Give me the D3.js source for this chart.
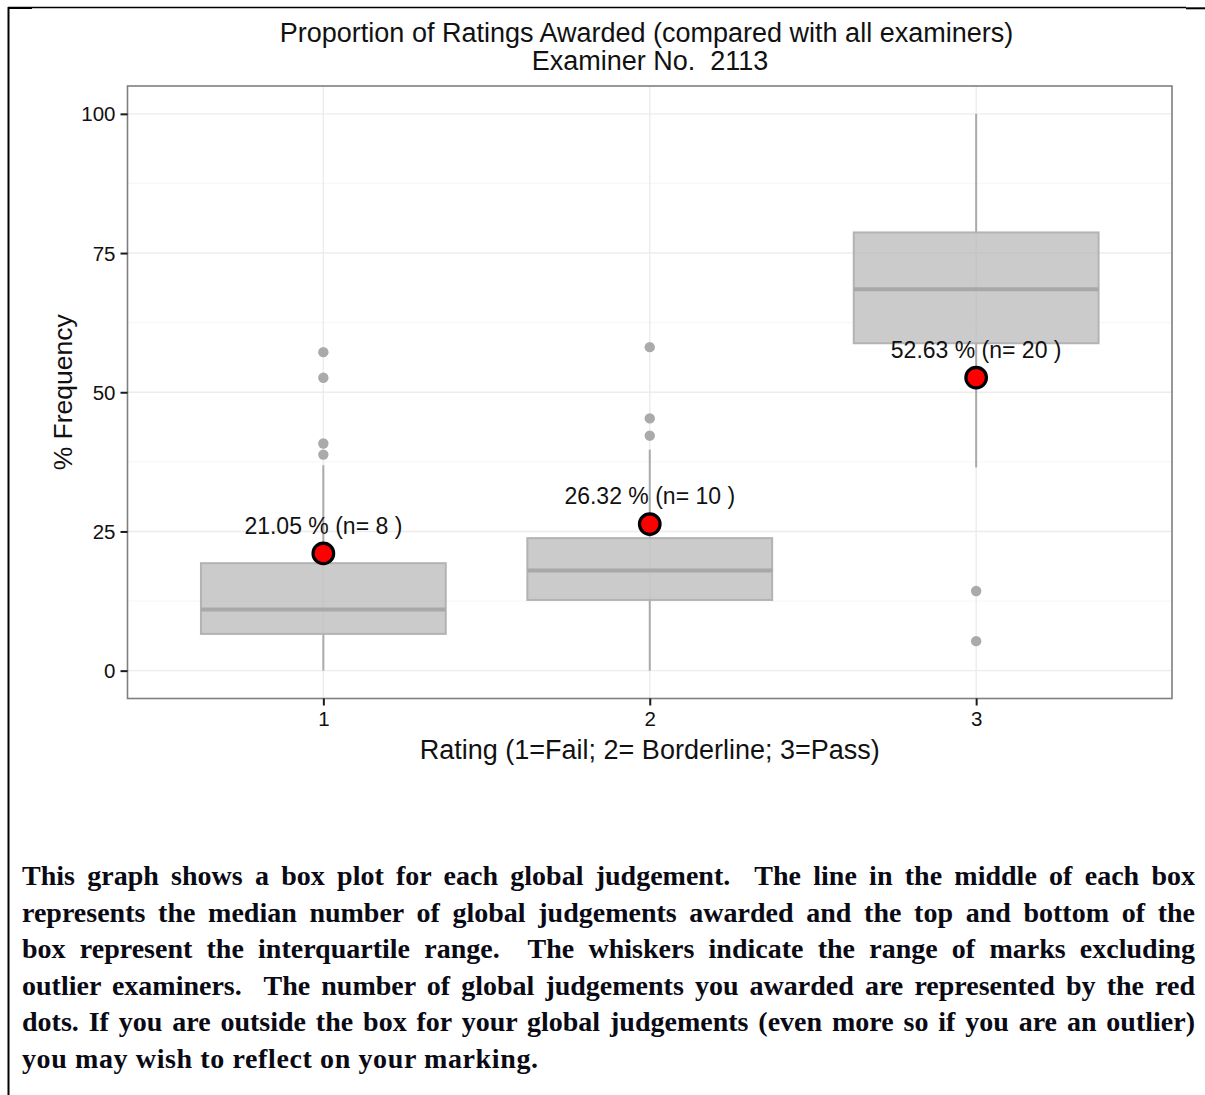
<!DOCTYPE html>
<html>
<head>
<meta charset="utf-8">
<script src="https://cdn.jsdelivr.net/npm/d3@7"></script>
<style>
  html, body { margin: 0; padding: 0; background: #fff; }
  svg { display: block; }
</style>
</head>
<body>
<svg id="chart" width="1205" height="1095"></svg>
<script>
// ---- data ----
const categories = ["1", "2", "3"];
const q1Values = [6.6, 12.7, 58.8];
const medianValues = [11.0, 18.0, 68.5];
const q3Values = [19.3, 23.8, 78.7];
const whiskerLow = [0, 0, 36.5];
const whiskerHigh = [36.9, 39.7, 100];
const outlierValues = [[57.2, 52.6, 40.8, 38.8], [58.1, 45.3, 42.2], [14.3, 5.3]];
const examinerPct = [21.05, 26.32, 52.63];
const examinerN = [8, 10, 20];
const yTicks = [0, 25, 50, 75, 100];
const yMinor = [12.5, 37.5, 62.5, 87.5];
const titleLines = ["Proportion of Ratings Awarded (compared with all examiners)", "Examiner No.  2113"];
const xTitle = "Rating (1=Fail; 2= Borderline; 3=Pass)";
const yTitle = "% Frequency";
const noteLines = [
  "This graph shows a box plot for each global judgement.  The line in the middle of each box",
  "represents the median number of global judgements awarded and the top and bottom of the",
  "box represent the interquartile range.  The whiskers indicate the range of marks excluding",
  "outlier examiners.  The number of global judgements you awarded are represented by the red",
  "dots. If you are outside the box for your global judgements (even more so if you are an outlier)",
  "you may wish to reflect on your marking."
];

const svg = d3.select("#chart");
const sans = "'Liberation Sans', Arial, sans-serif";
const serif = "'Liberation Serif', 'Times New Roman', serif";

const panel = { left: 127.5, right: 1172, top: 86, bottom: 698.5 };

const x = d3.scalePoint().domain(categories).range([panel.left, panel.right]).padding(0.6);
const y = d3.scaleLinear().domain([-5, 105]).range([panel.bottom, panel.top]);
const boxW = x.step() * 0.75;

// page border fragments
svg.append("line").attr("x1", 8).attr("x2", 1186).attr("y1", 7.5).attr("y2", 7.5).attr("stroke", "#000").attr("stroke-width", 1.3);
svg.append("line").attr("x1", 8).attr("x2", 32).attr("y1", 8).attr("y2", 8).attr("stroke", "#000").attr("stroke-width", 2);
svg.append("line").attr("x1", 1186).attr("x2", 1205).attr("y1", 8.3).attr("y2", 8.3).attr("stroke", "#000").attr("stroke-width", 2);
svg.append("line").attr("x1", 8.5).attr("x2", 8.5).attr("y1", 7).attr("y2", 1095).attr("stroke", "#000").attr("stroke-width", 2);

// grid
const g = svg.append("g");
g.selectAll(".minor").data(yMinor).join("line")
  .attr("x1", panel.left).attr("x2", panel.right)
  .attr("y1", d => y(d)).attr("y2", d => y(d))
  .attr("stroke", "#f7f7f7").attr("stroke-width", 1.2);
g.selectAll(".major").data(yTicks).join("line")
  .attr("x1", panel.left).attr("x2", panel.right)
  .attr("y1", d => y(d)).attr("y2", d => y(d))
  .attr("stroke", "#ececec").attr("stroke-width", 1.4);
g.selectAll(".vmajor").data(categories).join("line")
  .attr("x1", d => x(d)).attr("x2", d => x(d))
  .attr("y1", panel.top).attr("y2", panel.bottom)
  .attr("stroke", "#ececec").attr("stroke-width", 1.4);

// boxplots
const boxes = svg.append("g");
categories.forEach((c, i) => {
  const cx = x(c);
  boxes.append("line").attr("x1", cx).attr("x2", cx)
    .attr("y1", y(q3Values[i])).attr("y2", y(whiskerHigh[i]))
    .attr("stroke", "#aaaaaa").attr("stroke-width", 2);
  boxes.append("line").attr("x1", cx).attr("x2", cx)
    .attr("y1", y(q1Values[i])).attr("y2", y(whiskerLow[i]))
    .attr("stroke", "#aaaaaa").attr("stroke-width", 2);
  boxes.append("rect")
    .attr("x", cx - boxW / 2).attr("width", boxW)
    .attr("y", y(q3Values[i])).attr("height", y(q1Values[i]) - y(q3Values[i]))
    .attr("fill", "#b5b5b5").attr("fill-opacity", 0.7)
    .attr("stroke", "#b3b3b3").attr("stroke-width", 2);
  boxes.append("line").attr("x1", cx - boxW / 2).attr("x2", cx + boxW / 2)
    .attr("y1", y(medianValues[i])).attr("y2", y(medianValues[i]))
    .attr("stroke", "#a8a8a8").attr("stroke-width", 4);
  boxes.selectAll(null).data(outlierValues[i]).join("circle")
    .attr("cx", cx).attr("cy", d => y(d)).attr("r", 5.2)
    .attr("fill", "#aaaaaa");
});

// panel border
svg.append("rect").attr("x", panel.left).attr("y", panel.top)
  .attr("width", panel.right - panel.left).attr("height", panel.bottom - panel.top)
  .attr("fill", "none").attr("stroke", "#7f7f7f").attr("stroke-width", 1.6);

// axes
const yAxis = svg.append("g").attr("transform", `translate(${panel.left},0)`)
  .call(d3.axisLeft(y).tickValues(yTicks).tickSize(7).tickPadding(5));
const xAxis = svg.append("g").attr("transform", `translate(0,${panel.bottom})`)
  .call(d3.axisBottom(x).tickSize(7).tickPadding(6));
[yAxis, xAxis].forEach(a => {
  a.select(".domain").remove();
  a.selectAll(".tick line").attr("stroke", "#1a1a1a").attr("stroke-width", 2);
  a.selectAll(".tick text").attr("fill", "#111").style("font-family", sans).style("font-size", "20.5px");
});
yAxis.selectAll(".tick text").attr("dy", "0.34em");

// examiner points + labels
const pts = svg.append("g");
pts.selectAll("circle").data(examinerPct).join("circle")
  .attr("cx", (d, i) => x(categories[i])).attr("cy", d => y(d))
  .attr("r", 10.3).attr("fill", "#ff0000").attr("stroke", "#000").attr("stroke-width", 3.2);
pts.selectAll("text").data(examinerPct).join("text")
  .attr("x", (d, i) => x(categories[i])).attr("y", d => y(d + 5))
  .attr("dy", "0.35em").attr("text-anchor", "middle")
  .style("font-family", sans).style("font-size", "23px").attr("fill", "#111")
  .attr("xml:space", "preserve")
  .text((d, i) => `${d.toFixed(2)} % (n= ${examinerN[i]} )`);

// titles
svg.append("text").attr("x", 646.5).attr("y", 41.5).attr("text-anchor", "middle")
  .style("font-family", sans).style("font-size", "27px").attr("fill", "#111")
  .text(titleLines[0]);
svg.append("text").attr("x", 650).attr("y", 70).attr("text-anchor", "middle")
  .style("font-family", sans).style("font-size", "27px").attr("fill", "#111")
  .style("white-space", "pre").attr("xml:space", "preserve")
  .text(titleLines[1]);
svg.append("text").attr("x", (panel.left + panel.right) / 2).attr("y", 758.5).attr("text-anchor", "middle")
  .style("font-family", sans).style("font-size", "27px").attr("fill", "#111")
  .text(xTitle);
svg.append("text").attr("transform", `translate(72,${(panel.top + panel.bottom) / 2}) rotate(-90)`)
  .attr("text-anchor", "middle")
  .style("font-family", sans).style("font-size", "26.5px").attr("fill", "#111")
  .text(yTitle);

// explanatory note, justified (double spaces preserved)
const noteLeft = 22, noteRight = 1195;
const noteBase = 885, noteStep = 36.5;
const lastLineWidth = 516;
noteLines.forEach((line, i) => {
  const t = svg.append("text").attr("x", noteLeft).attr("y", noteBase + i * noteStep)
    .style("font-family", serif).style("font-size", "28px").style("font-weight", "bold")
    .style("white-space", "pre").attr("xml:space", "preserve")
    .attr("fill", "#0a0a14").text(line);
  if (i < noteLines.length - 1) {
    const len = t.node().getComputedTextLength();
    const spaces = (line.match(/ /g) || []).length;
    t.attr("word-spacing", ((noteRight - noteLeft) - len) / spaces);
  } else {
    t.attr("textLength", lastLineWidth).attr("lengthAdjust", "spacing");
  }
});
</script>
</body>
</html>
